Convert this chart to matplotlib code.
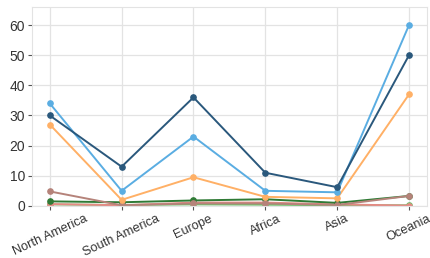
import numpy as np
import matplotlib.pyplot as plt

regions = ["North America", "South America", "Europe", "Africa", "Asia", "Oceania"]

light_green = [0.5, 0.3, 0.5, 0.4, 0.2, 0.2]
red = [0.6, 0.2, 1.1, 1.1, 0.5, 0.1]
dark_green = [1.5, 1.2, 1.8, 2.2, 1.0, 3.3]
brown = [4.8, 0.2, 0.8, 0.8, 0.3, 3.3]
orange = [27, 2, 9.5, 3, 2.5, 37]
light_blue = [34, 5, 23, 5, 4.5, 60]
dark_blue = [30, 13, 36, 11, 6.2, 50]

series = [
    (light_green, "#6cc06a"),
    (red, "#e58a84"),
    (dark_green, "#2f7a35"),
    (brown, "#b5837a"),
    (orange, "#ffb066"),
    (light_blue, "#5aade2"),
    (dark_blue, "#2a587c"),
]

plt.rcParams['font.family'] = ['Liberation Sans', 'DejaVu Sans']

fig = plt.figure(figsize=(4.3, 2.58), dpi=100)
ax = fig.add_axes([0.074, 0.202, 0.919, 0.771])

x = np.arange(len(regions))
for vals, col in series:
    ax.plot(x, vals, color=col, lw=1.4, marker='o', ms=3.8)

ax.set_xlim(-0.25, 5.25)
ax.set_ylim(0, 66)
ax.set_yticks([0, 10, 20, 30, 40, 50, 60])
ax.set_xticks(x)
ax.set_xticklabels(regions, rotation=25, ha='center')
ax.grid(color='#e3e3e3', lw=0.9)
ax.set_axisbelow(True)
for s in ax.spines.values():
    s.set_color('#e3e3e3')
ax.tick_params(colors='#555555', labelcolor='#333333', labelsize=9.2, length=3, width=0.8, pad=2)
ax.tick_params(axis='y', labelsize=10)

fig.savefig("out.png", dpi=100)
